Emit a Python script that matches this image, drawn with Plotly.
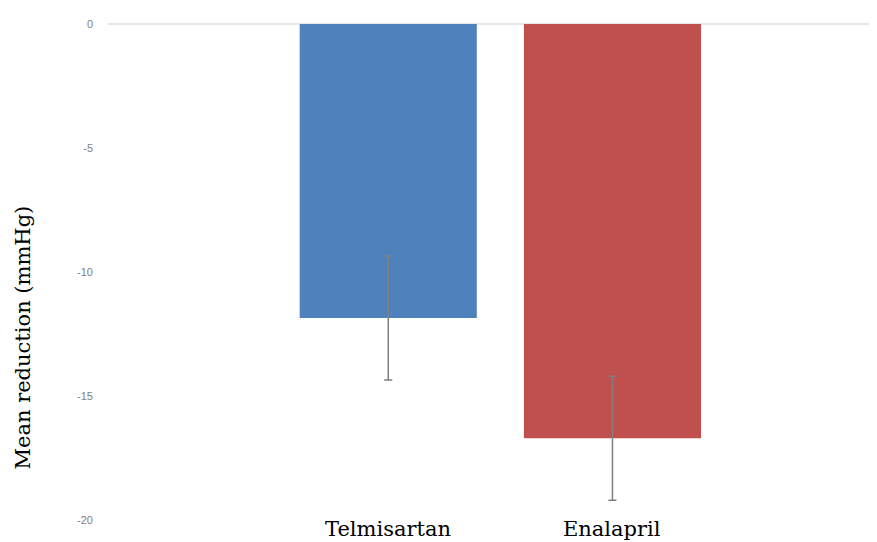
import plotly.graph_objects as go

categories = ["Telmisartan", "Enalapril"]
mean_reduction = [-11.85, -16.7]
error_sd = [2.5, 2.5]
bar_colors = ["#4F81BD", "#C0504D"]
y_ticks = [0, -5, -10, -15, -20]

fig = go.Figure()
fig.add_trace(go.Bar(
    x=categories,
    y=mean_reduction,
    marker=dict(color=bar_colors, line=dict(width=0)),
    width=0.79,
    error_y=dict(type="data", array=error_sd, visible=True,
                 color="#808080", thickness=1.5, width=4),
    showlegend=False,
))

annotations = [dict(text="Mean reduction (mmHg)", xref="paper", yref="paper",
                    x=-0.1105, y=0.368, xanchor="center", yanchor="middle",
                    textangle=-90, showarrow=False,
                    font=dict(family="DejaVu Serif", size=21, color="#000000"))]
for c in categories:
    annotations.append(dict(text=c, xref="x", yref="paper", x=c, y=0,
                            xanchor="center", yanchor="middle", yshift=-9,
                            showarrow=False,
                            font=dict(family="DejaVu Serif", size=21, color="#000000")))

fig.update_layout(
    width=869, height=534,
    margin=dict(l=100, r=0, t=16, b=22),
    paper_bgcolor="white", plot_bgcolor="white",
    xaxis=dict(range=[-1.25, 2.18], showgrid=False, zeroline=False,
               showline=False, ticks="", showticklabels=False),
    yaxis=dict(range=[-20, 0], tickvals=y_ticks, ticktext=[str(v) for v in y_ticks],
               showgrid=False, zeroline=True, zerolinecolor="#E8E8E8", zerolinewidth=1.5,
               showline=False, ticks="", ticklabelstandoff=14,
               tickfont=dict(family="Liberation Sans", size=11, color="#7F7F7F")),
    annotations=annotations,
)
fig.add_shape(type="line", xref="paper", yref="y", x0=1, x1=1.02, y0=0, y1=0,
              line=dict(color="#E8E8E8", width=1.5))

fig.write_html("out.html")
